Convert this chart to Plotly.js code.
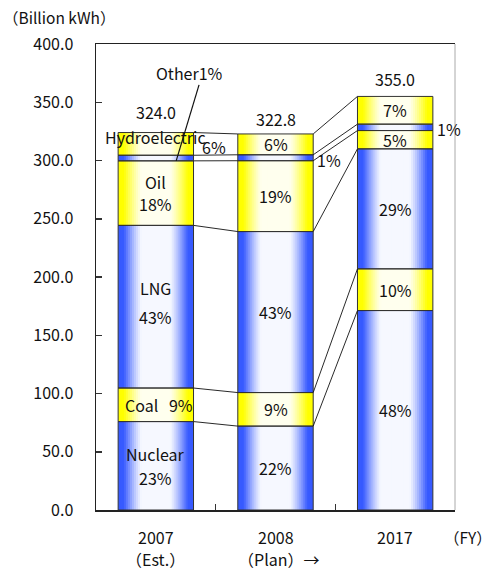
<!DOCTYPE html>
<html>
<head>
<meta charset="utf-8">
<script src="https://cdn.plot.ly/plotly-3.0.1.min.js"></script>
<style>html,body{margin:0;padding:0;background:#fff;}#chart{width:492px;height:571px;}</style>
</head>
<body>
<div id="chart"></div>
<script>
// ---- data (billion kWh) ----
const years = ['2007', '2008', '2017'];
const yearNotes = ['（Est.）', '（Plan）→', ''];
const totals = [324.0, 322.8, 355.0];
const nuclear = [75.9, 72.0, 171.2];
const coal = [28.8, 28.8, 35.8];
const lng = [139.6, 138.2, 103.0];
const oil = [55.4, 60.8, 15.7];
const other = [4.8, 5.1, 5.5];
const hydro = [19.5, 17.9, 23.8];
const pctNuclear = ['23%', '22%', '48%'];
const pctCoal = ['9%', '9%', '10%'];
const pctLNG = ['43%', '43%', '29%'];
const pctOil = ['18%', '19%', '5%'];
const pctOther = ['1%', '1%', '1%'];
const pctHydro = ['6%', '6%', '7%'];
const yTicks = [0, 50, 100, 150, 200, 250, 300, 350, 400];

// ---- styling ----
const FONT = '"Noto Sans CJK JP", "Noto Sans", sans-serif';
const W = 0.63;
const N = 19;
const BLUE = [55, 90, 255], BLUE_C = [246, 248, 255];
const YEL = [255, 255, 0], YEL_C = [255, 255, 238];
const totalShift = [21, 15, 17];

const segs = [
  {vals: nuclear, pct: pctNuclear, kind: 'b'},
  {vals: coal, pct: pctCoal, kind: 'y'},
  {vals: lng, pct: pctLNG, kind: 'b'},
  {vals: oil, pct: pctOil, kind: 'y'},
  {vals: other, pct: pctOther, kind: 'b'},
  {vals: hydro, pct: pctHydro, kind: 'y'}
];
let cum = [0, 0, 0];
segs.forEach(s => { s.base = cum.slice(); cum = cum.map((c, i) => c + s.vals[i]); s.top = cum.slice(); });

function mix(c, e, a) {
  return 'rgb(' + c.map((v, i) => Math.round(v + (e[i] - v) * a)).join(',') + ')';
}
function profile(t) {
  let a = (t - 0.38) / 0.47;
  a = Math.max(0, Math.min(1, a));
  return Math.pow(a, 1.2);
}

const xs = years.map((_, i) => i);
const traces = [];
segs.forEach(s => {
  for (let k = 0; k < N; k++) {
    const frac = 1 - k / N;
    const t = 1 - (k + 0.5) / N;
    const a = profile(t);
    const col = s.kind === 'b' ? mix(BLUE_C, BLUE, a) : mix(YEL_C, YEL, a);
    traces.push({type: 'bar', x: xs, y: s.vals, base: s.base, width: W * frac,
      marker: {color: col, line: {width: 0}}, hoverinfo: 'skip', showlegend: false});
  }
});
segs.forEach(s => {
  traces.push({type: 'bar', x: xs, y: s.vals, base: s.base, width: W,
    marker: {color: 'rgba(0,0,0,0)', line: {color: '#333', width: 1}}, hoverinfo: 'skip', showlegend: false});
});
// connecting lines
segs.forEach(s => {
  for (let i = 0; i < xs.length - 1; i++) {
    traces.push({type: 'scatter', mode: 'lines', x: [xs[i] + W / 2, xs[i + 1] - W / 2],
      y: [s.top[i], s.top[i + 1]], line: {color: '#111', width: 0.9},
      hoverinfo: 'skip', showlegend: false});
  }
});

const ann = [];
const tf = {family: FONT, size: 16, color: '#111'};
function mid(s, i) { return s.base[i] + s.vals[i] / 2; }
function addText(text, x, y, opts) {
  ann.push(Object.assign({text: text, x: x, y: y, xref: 'x', yref: 'y', showarrow: false,
    font: tf, xanchor: 'center', yanchor: 'middle', borderpad: 0}, opts || {}));
}
const [sN, sC, sL, sO, sOt, sH] = segs;
// 2007
addText('Nuclear', 0, mid(sN, 0), {yshift: 12});
addText(sN.pct[0], 0, mid(sN, 0), {yshift: -12});
addText('Coal\u00a0\u00a0\u00a0' + sC.pct[0], 0, mid(sC, 0), {xshift: 3});
addText('LNG', 0, mid(sL, 0), {yshift: 19});
addText(sL.pct[0], 0, mid(sL, 0), {yshift: -10});
addText('Oil', 0, mid(sO, 0), {yshift: 11});
addText(sO.pct[0], 0, mid(sO, 0), {yshift: -11});
addText('Hydroelectric', 0, sH.top[0], {yshift: -4});
addText(sH.pct[0], W / 2, mid(sH, 0), {xanchor: 'left', xshift: 7, yshift: -3});
addText('Other' + sOt.pct[0], 0.285, 375.4);
// 2008 & 2017
for (let i = 1; i < 3; i++) {
  [sN, sC, sL, sO, sH].forEach(s => addText(s.pct[i], i, mid(s, i)));
  addText(sOt.pct[i], i + W / 2, mid(sOt, i), {xanchor: 'left', xshift: 3, yshift: -2});
}
// totals
totals.forEach((t, i) => addText(t.toFixed(1), i, t, {yshift: totalShift[i]}));
// x labels
years.forEach((y, i) => {
  addText(y, i, 0, {yshift: -27});
  if (yearNotes[i]) addText(yearNotes[i], i, 0, {yshift: -49, xshift: i === 1 ? 3 : 0});
});
ann.push({text: '（FY）', xref: 'paper', yref: 'paper', x: 1.035, y: 0, yshift: -27,
  xanchor: 'center', yanchor: 'middle', showarrow: false, borderpad: 0,
  font: {family: FONT, size: 15.5, color: '#111'}});
ann.push({text: '（Billion kWh）', xref: 'paper', yref: 'paper', x: -0.262, y: 1, yshift: 27,
  xanchor: 'left', yanchor: 'middle', showarrow: false, borderpad: 0,
  font: {family: FONT, size: 15.5, color: '#111'}});

const layout = {
  width: 492, height: 571,
  margin: {l: 96, r: 37, t: 44, b: 61},
  paper_bgcolor: '#fff', plot_bgcolor: '#fff',
  barmode: 'overlay',
  showlegend: false,
  font: {family: FONT, color: '#111'},
  xaxis: {range: [-0.5, 2.5], tickvals: [0.5, 1.5], showticklabels: false, ticks: 'inside',
    ticklen: 6, tickcolor: '#333', tickwidth: 1.5, showline: true, linecolor: '#222', linewidth: 1.5,
    mirror: true, showgrid: false, zeroline: false, fixedrange: true},
  yaxis: {range: [0, 400], tickvals: yTicks, tickformat: '.1f', ticks: 'inside', ticklen: 6,
    tickcolor: '#333', tickwidth: 1.5, showline: true, linecolor: '#222', linewidth: 1.5,
    showgrid: false, zeroline: false, ticklabelstandoff: 18,
    tickfont: {family: FONT, size: 16, color: '#111'}, fixedrange: true},
  shapes: [
    {type: 'line', xref: 'paper', yref: 'paper', x0: 1, x1: 1, y0: 0, y1: 1,
      line: {color: '#aaa', width: 1}},
    {type: 'line', xref: 'x', yref: 'y', x0: 0.361, y0: 364.9, x1: 0.17, y1: sOt.base[0],
      line: {color: '#111', width: 1.2}}
  ],
  annotations: ann
};
Plotly.newPlot('chart', traces, layout, {displayModeBar: false, staticPlot: true});
</script>
</body>
</html>
